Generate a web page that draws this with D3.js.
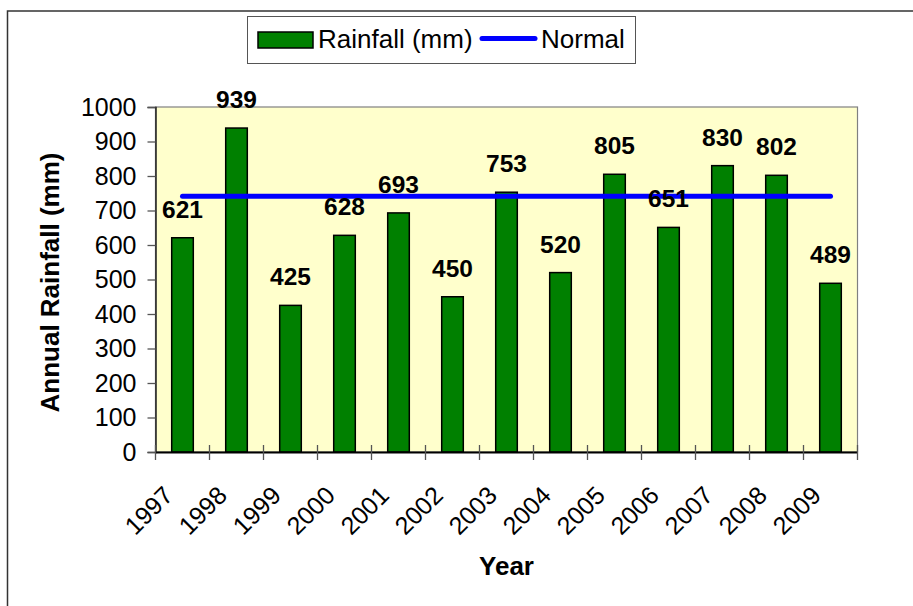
<!DOCTYPE html>
<html><head><meta charset="utf-8">
<script src="https://cdn.jsdelivr.net/npm/d3@7"></script>
<style>html,body{margin:0;padding:0;background:#fff;}svg{display:block;font-family:"Liberation Sans",Arial,sans-serif;}</style>
</head><body>
<script>
const years = ["1997","1998","1999","2000","2001","2002","2003","2004","2005","2006","2007","2008","2009"];
const rainfall = [621,939,425,628,693,450,753,520,805,651,830,802,489];
const normal = 741;
const yTicks = [0,100,200,300,400,500,600,700,800,900,1000];

const W = 913, H = 606;
const svg = d3.select("body").append("svg").attr("width", W).attr("height", H);

// outer border
svg.append("path").attr("d", `M7.5,${H+2} L7.5,11 L${W+2},11`).attr("fill","none").attr("stroke","#333").attr("stroke-width",1.5);

const x0 = 155.5, x1 = 857.5, yTop = 107, yBot = 452;
const x = d3.scaleBand().domain(years).range([x0, x1]).padding(0);
const y = d3.scaleLinear().domain([0, 1000]).range([yBot, yTop]);
const bw = x.bandwidth() * 0.4;

// plot area
svg.append("rect").attr("x", x0).attr("y", yTop).attr("width", x1 - x0).attr("height", yBot - yTop)
  .attr("fill", "#FFFFCC").attr("stroke", "#808080").attr("stroke-width", 1.2);

// bars
svg.selectAll("rect.bar").data(years).join("rect").attr("class","bar")
  .attr("x", d => x(d) + (x.bandwidth() - bw) / 2)
  .attr("y", (d, i) => y(rainfall[i]))
  .attr("width", bw)
  .attr("height", (d, i) => y(0) - y(rainfall[i]))
  .attr("fill", "#008000").attr("stroke", "#000").attr("stroke-width", 1.5);

// normal line
const line = d3.line().x(d => x(d) + x.bandwidth() / 2).y(() => y(normal));
svg.append("path").datum([years[0], years[years.length - 1]]).attr("d", line)
  .attr("fill","none").attr("stroke","#0000FF").attr("stroke-width",5).attr("stroke-linecap","round");

// value labels
svg.selectAll("text.val").data(years).join("text").attr("class","val")
  .attr("x", d => x(d) + x.bandwidth() / 2)
  .attr("y", (d, i) => y(rainfall[i]) - 20)
  .attr("text-anchor","middle").attr("font-weight","bold").attr("font-size", 24.5).attr("fill","#000")
  .text((d, i) => rainfall[i]);

// y axis
const yAxis = svg.append("g").attr("transform", `translate(${x0},0)`)
  .call(d3.axisLeft(y).tickValues(yTicks).tickSize(8).tickPadding(11).tickFormat(d3.format("d")));
yAxis.select(".domain").attr("stroke","#222").attr("stroke-width",1.5);
yAxis.selectAll(".tick line").attr("stroke","#555").attr("stroke-width",1.3);
yAxis.selectAll("text").attr("font-size",25).attr("font-family","Liberation Sans, Arial, sans-serif").attr("fill","#000");

// x axis
const xAxis = svg.append("g").attr("transform", `translate(0,${yBot})`)
  .call(d3.axisBottom(x).tickSize(0).tickFormat(""));
xAxis.select(".domain").attr("stroke","#000").attr("stroke-width",1.8);
xAxis.selectAll(".tick").remove();
const bounds = years.map(d => x(d)).concat([x1]);
svg.selectAll("line.xt").data(bounds).join("line").attr("class","xt")
  .attr("x1", d => d).attr("x2", d => d).attr("y1", yBot - 7).attr("y2", yBot + 8)
  .attr("stroke","#555").attr("stroke-width",1.3);
svg.selectAll("text.xl").data(years).join("text").attr("class","xl")
  .attr("transform", d => `translate(${x(d) + x.bandwidth()/2 - 8},497) rotate(-45)`)
  .attr("text-anchor","end").attr("font-size",25).attr("fill","#000").text(d => d);

// axis titles
svg.append("text").attr("x", (x0 + x1) / 2).attr("y", 575).attr("text-anchor","middle")
  .attr("font-weight","bold").attr("font-size",26).text("Year");
svg.append("text").attr("transform", `translate(59,${(yTop + yBot) / 2 + 3}) rotate(-90)`)
  .attr("text-anchor","middle").attr("font-weight","bold").attr("font-size",26).text("Annual Rainfall (mm)");

// legend
const lg = svg.append("g");
lg.append("rect").attr("x",247.5).attr("y",16.5).attr("width",388).attr("height",47)
  .attr("fill","#fff").attr("stroke","#555").attr("stroke-width",1);
lg.append("rect").attr("x",258).attr("y",32).attr("width",55).attr("height",16)
  .attr("fill","#008000").attr("stroke","#000").attr("stroke-width",1.5);
lg.append("text").attr("x",318).attr("y",47.5).attr("font-size",26).text("Rainfall (mm)");
lg.append("line").attr("x1",482).attr("x2",535).attr("y1",38.5).attr("y2",38.5)
  .attr("stroke","#0000FF").attr("stroke-width",5).attr("stroke-linecap","round");
lg.append("text").attr("x",541).attr("y",47.5).attr("font-size",26).text("Normal");
</script>
</body></html>
